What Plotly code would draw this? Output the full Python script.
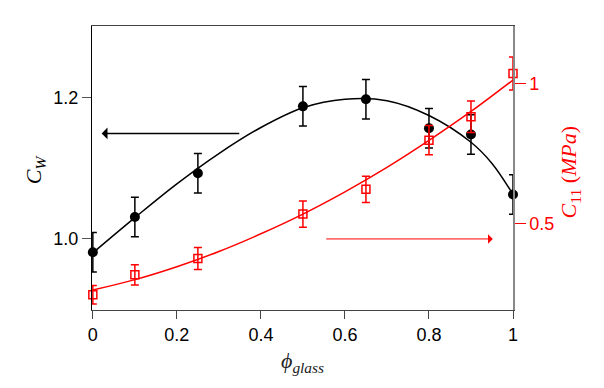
import plotly.graph_objects as go

# Measured data: C_W (left axis)
phi = [0.0, 0.1, 0.25, 0.5, 0.65, 0.8, 0.9, 1.0]
cw = [0.981, 1.031, 1.093, 1.188, 1.198, 1.157, 1.148, 1.063]
cw_err = [0.028, 0.028, 0.028, 0.028, 0.028, 0.028, 0.028, 0.028]

# Measured data: C11 in MPa (right axis)
c11 = [0.248, 0.319, 0.377, 0.535, 0.623, 0.798, 0.881, 1.035]
c11_err = [0.033, 0.036, 0.039, 0.047, 0.047, 0.052, 0.056, 0.059]

# Fit curves
fit_x = [0.0, 0.1, 0.2, 0.3, 0.4, 0.5, 0.6, 0.7, 0.8, 0.9, 0.95, 1.0]
cw_fit = [0.980, 1.030, 1.078, 1.121, 1.158, 1.186, 1.198, 1.196, 1.175, 1.137, 1.107, 1.063]
c11_fit_x = [0.0, 0.1, 0.2, 0.3, 0.4, 0.5, 0.6, 0.7, 0.8, 0.9, 1.0]
c11_fit = [0.265, 0.302, 0.348, 0.402, 0.465, 0.535, 0.614, 0.701, 0.797, 0.900, 1.012]

x_ticks = [0, 0.2, 0.4, 0.6, 0.8, 1.0]
x_ticktext = ["0", "0.2", "0.4", "0.6", "0.8", "1"]
y_ticks = [1.0, 1.2]
y_ticktext = ["1.0", "1.2"]
y2_ticks = [0.5, 1.0]
y2_ticktext = ["0.5", "1"]

RED = "#ff0000"
tick_font = dict(family="Liberation Sans, Arial", size=18)
title_font = "Liberation Serif, Times New Roman, serif"

fig = go.Figure()

fig.add_trace(go.Scatter(x=fit_x, y=cw_fit, mode="lines", line=dict(color="black", width=1.5, shape="spline"),
                         showlegend=False, hoverinfo="skip"))
fig.add_trace(go.Scatter(x=c11_fit_x, y=c11_fit, mode="lines", yaxis="y2",
                         line=dict(color=RED, width=1.5, shape="spline"), showlegend=False, hoverinfo="skip"))
fig.add_trace(go.Scatter(x=phi, y=cw, mode="markers", cliponaxis=False,
                         marker=dict(symbol="circle", size=10, color="black"),
                         error_y=dict(type="data", array=cw_err, color="black", thickness=1.5, width=4),
                         showlegend=False))
fig.add_trace(go.Scatter(x=phi, y=c11, mode="markers", yaxis="y2", cliponaxis=False,
                         marker=dict(symbol="square-open", size=8, color=RED, line=dict(width=1.5, color=RED)),
                         error_y=dict(type="data", array=c11_err, color=RED, thickness=1.5, width=4),
                         showlegend=False))

# The page body has an 8px margin, so the figure is sized to fit the window.
fig.update_layout(
    width=596, height=380,
    margin=dict(l=84, r=91, t=18, b=78),
    paper_bgcolor="white", plot_bgcolor="white",
    xaxis=dict(range=[-0.002, 1.0], tickvals=x_ticks, ticktext=x_ticktext, showgrid=False, zeroline=False,
               showline=True, linecolor="#444", linewidth=1, mirror=True,
               ticks="outside", ticklen=8, tickcolor="#444", tickfont=dict(color="black", **tick_font)),
    yaxis=dict(range=[0.899, 1.302], tickvals=y_ticks, ticktext=y_ticktext, showgrid=False, zeroline=False,
               showline=True, linecolor="black", linewidth=1,
               ticks="outside", ticklen=9, tickcolor="#555", tickfont=dict(color="black", **tick_font)),
    yaxis2=dict(range=[0.194, 1.204], tickvals=y2_ticks, ticktext=y2_ticktext, overlaying="y", side="right",
                showgrid=False, zeroline=False, showline=True, linecolor="#888", linewidth=1.5,
                ticks="outside", ticklen=11, tickcolor=RED, tickfont=dict(color=RED, **tick_font)),
    showlegend=False,
)

annotations = [
    # direction arrows
    dict(x=0.021, y=1.1495, ax=0.352, ay=1.1495, xref="x", yref="y", axref="x", ayref="y",
         text="", showarrow=True, arrowhead=1, arrowsize=1.3, arrowwidth=1.5, arrowcolor="black"),
    dict(x=0.952, y=0.4467, ax=0.552, ay=0.4467, xref="x", yref="y2", axref="x", ayref="y2",
         text="", showarrow=True, arrowhead=1, arrowsize=1.6, arrowwidth=1, arrowcolor=RED),
    # axis titles
    dict(x=-0.135, y=0.493, xref="paper", yref="paper", xanchor="center", yanchor="middle",
         text="<i>C</i><sub><i>W</i></sub>",
         showarrow=False, textangle=-90, font=dict(family=title_font, size=22, color="black")),
    dict(x=1.135, y=0.484, xref="paper", yref="paper", xanchor="center", yanchor="middle",
         text="<i>C</i><sub>11</sub> (<i>MPa</i>)",
         showarrow=False, textangle=-90, font=dict(family=title_font, size=22, color=RED)),
    dict(x=0.501, y=-0.183, xref="paper", yref="paper", xanchor="center", yanchor="middle",
         text="<i>ϕ</i><sub><i>glass</i></sub>",
         showarrow=False, font=dict(family=title_font, size=22, color="#222")),
]
fig.update_layout(annotations=annotations)

fig.write_html("out.html")
